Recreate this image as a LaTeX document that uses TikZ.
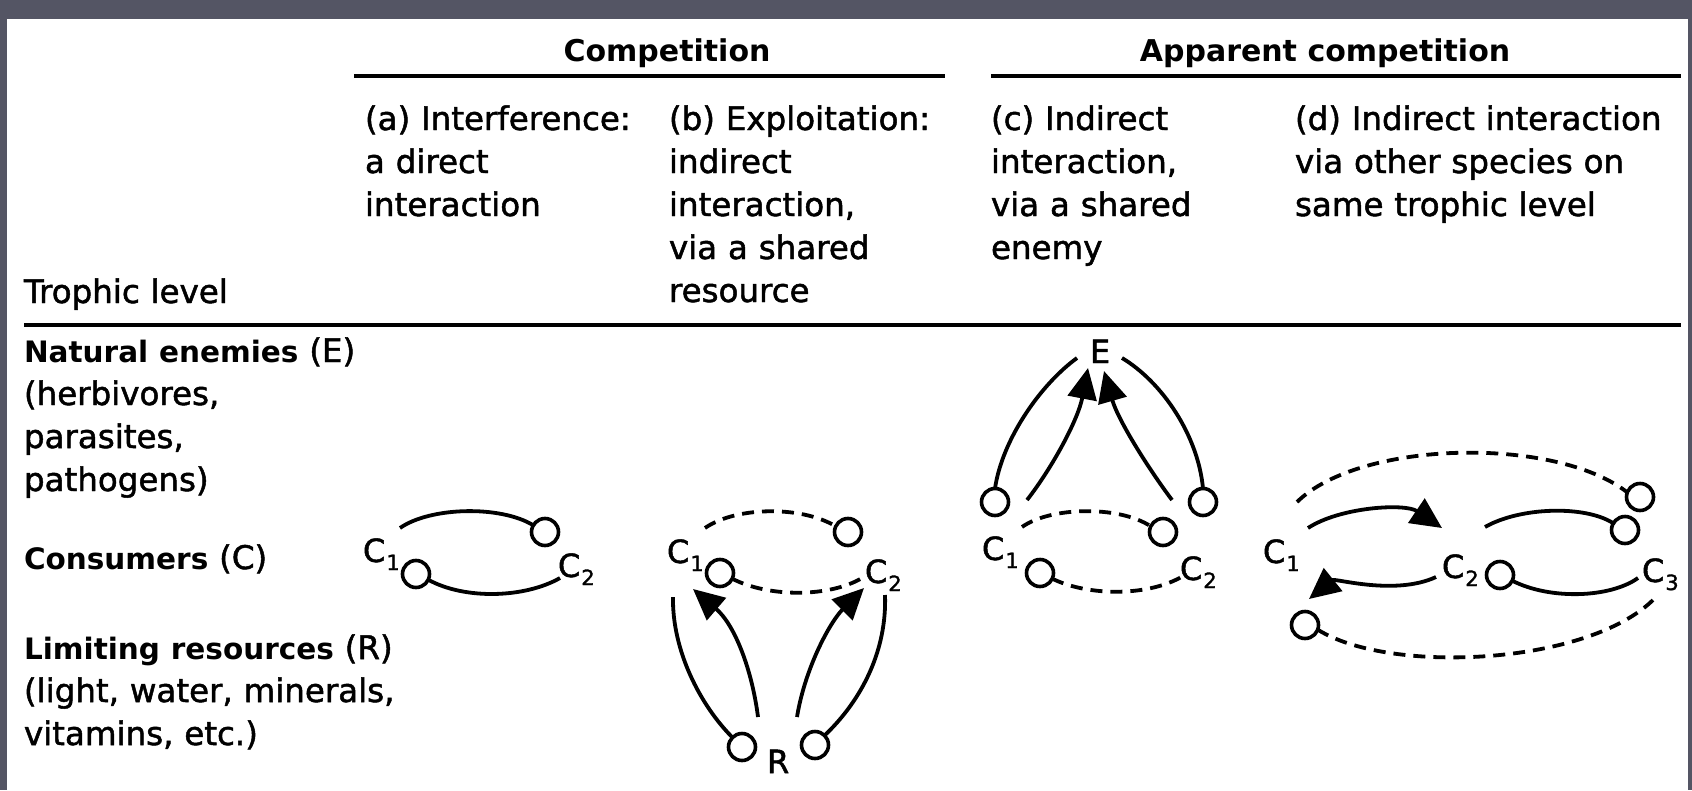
\documentclass[tikz,border=0pt]{standalone}
\usepackage{fontspec}
\setmainfont{DejaVu Sans}[UprightFeatures={FakeBold=1.5}]
\usetikzlibrary{arrows.meta}
\definecolor{framegray}{RGB}{84,85,100}
\newcommand{\Clab}[2]{#1\kern1pt\raisebox{-8pt}{\fontsize{21}{21}\selectfont #2}}
\newcommand{\Bt}[1]{{\fontsize{29.5}{43}\selectfont\bfseries #1}}
\begin{document}
\begin{tikzpicture}[x=1pt,y=-1pt,
  every node/.style={inner sep=0pt,outer sep=0pt},
  coltext/.style={anchor=base west,font=\fontsize{32.5}{43}\selectfont,text width=#1,align=left},
  coltext/.default=330pt,
  header/.style={anchor=base,font=\fontsize{30}{43}\selectfont\bfseries},
  rulel/.style={line width=3.6pt},
  ring/.style={circle,draw,line width=3.6pt,minimum size=27pt},
  lab/.style={anchor=base west,font=\fontsize{32}{32}\selectfont},
  lnk/.style={line width=3.8pt},
  dsh/.style={line width=3.8pt,dash pattern=on 12pt off 8pt},
  arr/.style={line width=3.8pt,-{Triangle[length=31pt,width=29pt]}}
]
\useasboundingbox (0,0) rectangle (1692,790);
\fill[framegray] (0,0) rectangle (1692,790);
\fill[white] (7,19) rectangle (1688,790);

% headers and rules
\node[header] (hcomp) at (667,61) {Competition};
\node[header] (happ) at (1325,61) {Apparent competition};
\coordinate (r1a) at (354,76); \coordinate (r1b) at (945,76);
\coordinate (r2a) at (991,76); \coordinate (r2b) at (1681,76);
\coordinate (r3a) at (24,325); \coordinate (r3b) at (1681,325);
\draw[rulel] (r1a) -- (r1b);
\draw[rulel] (r2a) -- (r2b);
\draw[rulel] (r3a) -- (r3b);

% column texts
\node[coltext=300pt] (ta) at (365,130) {(a) Interference:\\a direct\\interaction};
\node[coltext=300pt] (tb) at (669,130) {(b) Exploitation:\\indirect\\interaction,\\via a shared\\resource};
\node[coltext=300pt] (tc) at (991,130) {(c) Indirect\\interaction,\\via a shared\\enemy};
\node[coltext=390pt] (td) at (1295,130) {(d) Indirect interaction\\via other species on\\same trophic level};

% left texts
\node[coltext] (tl) at (24,303) {Trophic level};
\node[coltext=400pt] (ne) at (24,362) {\Bt{Natural enemies} (E)\\(herbivores,\\parasites,\\pathogens)};
\node[coltext] (co) at (24,569) {\Bt{Consumers} (C)};
\node[coltext=400pt] (lr) at (24,659) {\Bt{Limiting resources} (R)\\(light, water, minerals,\\vitamins, etc.)};

% ---------- panel (a)
\node[ring] (a1) at (416,574) {};
\node[ring] (a2) at (545,532) {};
\node[lab] (aC1) at (363,562) {\Clab{C}{1}};
\node[lab] (aC2) at (558,577) {\Clab{C}{2}};
\coordinate (aT) at (400,528);
\coordinate (aB) at (560,578);
\draw[lnk] (aT) .. controls (430,507) and (500,505) .. (a2.150);
\draw[lnk] (a1.-25) .. controls (465,600) and (525,598) .. (aB);

% ---------- panel (b)
\node[ring] (b1) at (720,573) {};
\node[ring] (b2) at (848,532) {};
\node[ring] (r1) at (742,747) {};
\node[ring] (r2) at (815,745) {};
\node[lab] (bC1) at (667,563) {\Clab{C}{1}};
\node[lab] (bC2) at (865,583) {\Clab{C}{2}};
\node[lab] (bR) at (767,773) {R};
\coordinate (bT) at (705,528);
\coordinate (bB) at (862,578);
\coordinate (bL) at (673,597);
\coordinate (bLi) at (758,717);
\coordinate (bLt) at (693,589);
\coordinate (bRi) at (797,717);
\coordinate (bRt) at (864,588);
\coordinate (bRo) at (885,595);
\draw[dsh] (bT) .. controls (735,507) and (800,505) .. (b2.155);
\draw[dsh] (b1.-25) .. controls (770,598) and (830,597) .. (bB);
\draw[lnk] (bL) .. controls (672,650) and (700,705) .. (r1.135);
\draw[arr] (bLi) .. controls (752,670) and (735,625) .. (bLt);
\draw[arr] (bRi) .. controls (805,668) and (830,622) .. (bRt);
\draw[lnk] (r2.45) .. controls (862,700) and (887,650) .. (bRo);

% ---------- panel (c)
\node[lab] (E) at (1090,363) {E};
\node[ring] (cL) at (995,502) {};
\node[ring] (cR) at (1203,502) {};
\node[ring] (c1) at (1040,573) {};
\node[ring] (c2) at (1163,532) {};
\node[lab] (cC1) at (982,560) {\Clab{C}{1}};
\node[lab] (cC2) at (1180,580) {\Clab{C}{2}};
\coordinate (cLo) at (1077,358);
\coordinate (cLi) at (1027,500);
\coordinate (cLt) at (1088,368);
\coordinate (cRi) at (1172,500);
\coordinate (cRt) at (1104,371);
\coordinate (cRo) at (1122,358);
\coordinate (cT) at (1022,527);
\coordinate (cB) at (1183,576);
\draw[lnk] (cL.north) .. controls (1002,440) and (1040,385) .. (cLo);
\draw[arr] (cLi) .. controls (1052,468) and (1078,420) .. (cLt);
\draw[arr] (cRi) .. controls (1148,468) and (1118,420) .. (cRt);
\draw[lnk] (cRo) .. controls (1162,382) and (1198,435) .. (cR.north);
\draw[dsh] (cT) .. controls (1050,507) and (1118,505) .. (c2.155);
\draw[dsh] (c1.-25) .. controls (1090,597) and (1150,596) .. (cB);

% ---------- panel (d)
\node[ring] (d1) at (1305,625) {};
\node[ring] (d2) at (1500,575) {};
\node[ring] (d3) at (1625,530) {};
\node[ring] (d3t) at (1640,497) {};
\node[lab] (dC1) at (1263,563) {\Clab{C}{1}};
\node[lab] (dC2) at (1442,578) {\Clab{C}{2}};
\node[lab] (dC3) at (1642,582) {\Clab{C}{3}};
\coordinate (dT) at (1308,528);
\coordinate (dTt) at (1442,528);
\coordinate (dBs) at (1436,577);
\coordinate (dBt) at (1309,599);
\coordinate (dM) at (1485,527);
\coordinate (dMb) at (1638,578);
\coordinate (dOt) at (1297,502);
\coordinate (dOb) at (1655,598);
\draw[arr] (dT) .. controls (1340,507) and (1405,503) .. (dTt);
\draw[arr] (dBs) .. controls (1395,596) and (1335,578) .. (dBt);
\draw[lnk] (dM) .. controls (1520,507) and (1585,505) .. (d3.150);
\draw[lnk] (d2.-25) .. controls (1550,600) and (1610,598) .. (dMb);
\draw[dsh] (dOt) .. controls (1360,440) and (1555,436) .. (d3t.160);
\draw[dsh] (d1.-20) .. controls (1390,675) and (1590,665) .. (dOb);
\end{tikzpicture}
\end{document}
